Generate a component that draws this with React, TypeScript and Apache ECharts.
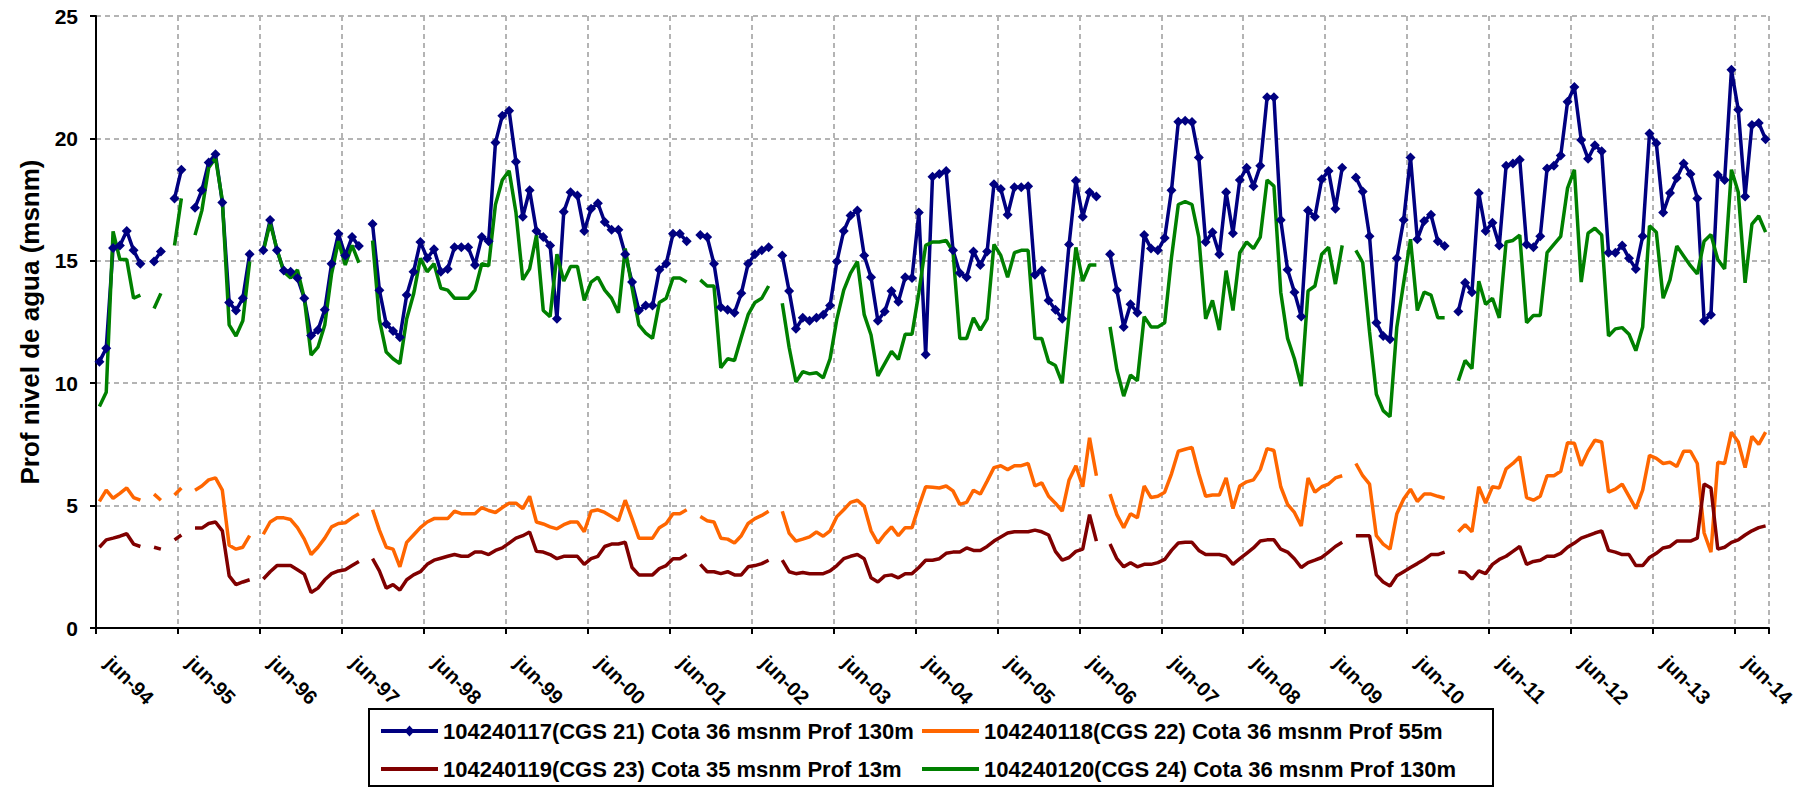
import React, { useEffect, useRef } from "react";
import * as echarts from "echarts";

const MONTHS = ["jun", "jul", "ago", "sep", "oct", "nov", "dic", "ene", "feb", "mar", "abr", "may"];
const N_MONTHS = 245;
const CATEGORIES: string[] = Array.from({ length: N_MONTHS }, (_, i) => {
  const year = 1994 + Math.floor((i + 5) / 12);
  return `${MONTHS[i % 12]}-${String(year % 100).padStart(2, "0")}`;
});

const NAMES = [
  "104240117(CGS 21) Cota 36 msnm Prof 130m",
  "104240118(CGS 22) Cota 36 msnm Prof 55m",
  "104240119(CGS 23) Cota 35 msnm Prof 13m",
  "104240120(CGS 24) Cota 36 msnm Prof 130m",
];
const COLORS = ["#000080", "#FF6600", "#800000", "#008000"];

const CGS21 = [
  10.88, 11.43, 15.52, 15.63, 16.22, 15.43, 14.88, null, 14.97, 15.38, null, 17.55,
  18.72, null, 17.17, 17.88, 19.02, 19.35, 17.38, 13.3, 12.97, 13.47, 15.27, null,
  15.43, 16.67, 15.43, 14.6, 14.55, 14.3, 13.47, 11.95, 12.17, 13.0, 14.88, 16.1,
  15.22, 15.97, 15.6, null, 16.5, 13.8, 12.42, 12.13, 11.88, 13.6, 14.55, 15.77,
  15.1, 15.47, 14.55, 14.67, 15.55, 15.55, 15.55, 14.83, 15.97, 15.8, 19.83, 20.93,
  21.13, 19.05, 16.8, 17.88, 16.22, 15.97, 15.63, 12.63, 17.0, 17.8, 17.67, 16.22,
  17.13, 17.35, 16.58, 16.27, 16.27, 15.27, 14.13, 12.97, 13.17, 13.17, 14.63, 14.88,
  16.1, 16.1, 15.8, null, 16.05, 15.97, 14.88, 13.1, 13.0, 12.88, 13.67, 14.88,
  15.27, 15.43, 15.55, null, 15.22, 13.77, 12.22, 12.67, 12.55, 12.67, 12.8, 13.17,
  14.97, 16.22, 16.85, 17.05, 15.22, 14.33, 12.55, 12.93, 13.77, 13.33, 14.33, 14.3,
  16.97, 11.17, 18.43, 18.55, 18.67, 15.43, 14.5, 14.33, 15.38, 14.83, 15.38, 18.13,
  17.93, 16.88, 18.0, 18.0, 18.05, 14.43, 14.6, 13.38, 13.0, 12.63, 15.67, 18.27,
  16.8, 17.8, 17.63, null, 15.27, 13.8, 12.3, 13.22, 12.88, 16.05, 15.5, 15.43,
  15.93, 17.88, 20.68, 20.72, 20.67, 19.22, 15.77, 16.17, 15.27, 17.8, 16.13, 18.3,
  18.8, 18.05, 18.88, 21.68, 21.68, 16.67, 14.63, 13.72, 12.72, 17.05, 16.8, 18.33,
  18.67, 17.13, 18.8, null, 18.4, 17.83, 16.0, 12.47, 11.93, 11.8, 15.1, 16.67,
  19.22, 15.88, 16.63, 16.88, 15.8, 15.6, null, 12.93, 14.1, 13.72, 17.77, 16.22,
  16.55, 15.63, 18.88, 18.97, 19.13, 15.67, 15.55, 16.0, 18.77, 18.88, 19.3, 21.5,
  22.1, 19.93, 19.17, 19.72, 19.47, 15.33, 15.33, 15.63, 15.1, 14.67, 16.0, 20.2,
  19.8, 16.97, 17.77, 18.38, 18.97, 18.55, 17.55, 12.55, 12.8, 18.5, 18.3, 22.8,
  21.17, 17.63, 20.55, 20.63, 19.97,
];

const CGS22 = [
  5.17, 5.63, 5.3, 5.5, 5.72, 5.33, 5.22, null, 5.47, 5.22, null, 5.43,
  5.72, null, 5.63, 5.8, 6.05, 6.13, 5.63, 3.38, 3.22, 3.3, 3.77, null,
  3.83, 4.33, 4.5, 4.5, 4.43, 4.1, 3.63, 3.0, 3.3, 3.67, 4.13, 4.27,
  4.3, 4.5, 4.67, null, 4.83, 4.0, 3.3, 3.22, 2.5, 3.5, 3.8, 4.1,
  4.33, 4.47, 4.47, 4.47, 4.77, 4.67, 4.67, 4.67, 4.92, 4.8, 4.72, 4.92,
  5.1, 5.1, 4.88, 5.38, 4.33, 4.25, 4.13, 4.05, 4.22, 4.33, 4.33, 3.93,
  4.77, 4.83, 4.72, 4.55, 4.38, 5.22, 4.47, 3.67, 3.67, 3.67, 4.1, 4.27,
  4.67, 4.67, 4.83, null, 4.55, 4.38, 4.33, 3.67, 3.63, 3.47, 3.77, 4.27,
  4.47, 4.6, 4.77, null, 4.77, 3.88, 3.55, 3.63, 3.72, 3.92, 3.75, 3.97,
  4.55, 4.83, 5.13, 5.22, 4.97, 3.97, 3.47, 3.83, 4.13, 3.77, 4.1, 4.1,
  4.97, 5.77, 5.75, 5.72, 5.8, 5.6, 5.05, 5.13, 5.63, 5.47, 6.0, 6.55,
  6.63, 6.47, 6.63, 6.63, 6.72, 5.8, 5.93, 5.38, 5.1, 4.77, 6.05, 6.63,
  5.77, 7.77, 6.22, null, 5.47, 4.63, 4.1, 4.67, 4.5, 5.8, 5.33, 5.38,
  5.55, 6.3, 7.22, 7.3, 7.38, 6.3, 5.38, 5.43, 5.43, 6.13, 4.88, 5.8,
  5.97, 6.05, 6.47, 7.33, 7.25, 5.77, 5.05, 4.72, 4.17, 6.13, 5.55, 5.77,
  5.88, 6.13, 6.22, null, 6.72, 6.22, 5.88, 3.77, 3.43, 3.22, 4.67, 5.27,
  5.67, 5.17, 5.47, 5.47, 5.38, 5.3, null, 3.93, 4.22, 3.93, 5.77, 5.1,
  5.77, 5.72, 6.5, 6.72, 7.0, 5.33, 5.22, 5.38, 6.22, 6.22, 6.4, 7.57,
  7.55, 6.63, 7.22, 7.67, 7.6, 5.55, 5.67, 5.88, 5.38, 4.88, 5.63, 7.05,
  6.93, 6.72, 6.77, 6.6, 7.22, 7.22, 6.72, 3.88, 3.1, 6.77, 6.72, 8.0,
  7.6, 6.55, 7.83, 7.5, 8.0,
];

const CGS23 = [
  3.3, 3.6, 3.67, 3.75, 3.85, 3.43, 3.33, null, 3.3, 3.22, null, 3.6,
  3.8, null, 4.08, 4.08, 4.27, 4.33, 3.97, 2.13, 1.77, 1.88, 1.97, null,
  2.0, 2.3, 2.55, 2.55, 2.55, 2.38, 2.2, 1.45, 1.63, 1.97, 2.22, 2.33,
  2.38, 2.55, 2.72, null, 2.83, 2.33, 1.63, 1.77, 1.55, 1.97, 2.17, 2.3,
  2.6, 2.77, 2.85, 2.93, 3.0, 2.93, 2.93, 3.1, 3.1, 3.0, 3.17, 3.27,
  3.47, 3.67, 3.77, 3.92, 3.13, 3.1, 3.0, 2.83, 2.93, 2.93, 2.93, 2.6,
  2.83, 2.93, 3.33, 3.43, 3.43, 3.5, 2.47, 2.17, 2.17, 2.17, 2.43, 2.55,
  2.83, 2.83, 3.0, null, 2.6, 2.3, 2.3, 2.22, 2.3, 2.17, 2.17, 2.5,
  2.55, 2.63, 2.77, null, 2.77, 2.3, 2.22, 2.27, 2.22, 2.22, 2.22, 2.33,
  2.55, 2.83, 2.93, 3.0, 2.83, 2.05, 1.88, 2.13, 2.17, 2.05, 2.22, 2.22,
  2.47, 2.77, 2.77, 2.83, 3.05, 3.1, 3.1, 3.27, 3.17, 3.17, 3.33, 3.55,
  3.72, 3.88, 3.93, 3.93, 3.93, 4.0, 3.93, 3.8, 3.13, 2.77, 2.88, 3.13,
  3.22, 4.63, 3.55, null, 3.43, 2.83, 2.5, 2.67, 2.5, 2.6, 2.6, 2.67,
  2.8, 3.17, 3.47, 3.5, 3.5, 3.17, 3.0, 3.0, 3.0, 2.93, 2.6, 2.83,
  3.05, 3.27, 3.55, 3.6, 3.6, 3.22, 3.1, 2.83, 2.47, 2.67, 2.77, 2.88,
  3.1, 3.33, 3.5, null, 3.77, 3.77, 3.77, 2.17, 1.88, 1.72, 2.13, 2.3,
  2.47, 2.63, 2.8, 3.0, 3.0, 3.1, null, 2.3, 2.27, 2.0, 2.33, 2.22,
  2.6, 2.8, 2.93, 3.13, 3.33, 2.6, 2.72, 2.77, 2.93, 2.93, 3.05, 3.3,
  3.47, 3.67, 3.77, 3.88, 3.97, 3.17, 3.1, 3.0, 3.0, 2.55, 2.55, 2.88,
  3.05, 3.27, 3.33, 3.55, 3.55, 3.55, 3.67, 5.88, 5.72, 3.22, 3.3, 3.5,
  3.6, 3.8, 3.97, 4.1, 4.17,
];

const CGS24 = [
  9.05, 9.63, 16.2, 15.05, 15.05, 13.47, 13.6, null, 13.05, 13.67, null, 15.63,
  17.55, null, 16.05, 17.05, 18.8, 19.2, 17.47, 12.38, 11.93, 12.55, 14.97, null,
  15.4, 16.55, 15.47, 14.55, 14.3, 14.63, 13.47, 11.15, 11.47, 12.38, 14.47, 15.8,
  14.83, 15.63, 14.92, null, 15.83, 12.6, 11.27, 11.0, 10.8, 12.63, 13.63, 15.1,
  14.55, 14.88, 13.88, 13.8, 13.47, 13.47, 13.47, 13.8, 14.88, 14.8, 17.3, 18.3,
  18.68, 16.97, 14.22, 14.67, 16.05, 12.97, 12.72, 15.27, 14.17, 14.77, 14.77, 13.38,
  14.13, 14.33, 13.8, 13.47, 12.88, 15.5, 13.9, 12.38, 12.05, 11.83, 13.3, 13.47,
  14.3, 14.3, 14.13, null, 14.22, 13.97, 13.97, 10.63, 11.0, 10.93, 11.88, 12.8,
  13.3, 13.47, 13.97, null, 13.27, 11.47, 10.05, 10.47, 10.38, 10.43, 10.22, 11.0,
  12.63, 13.8, 14.5, 14.97, 12.8, 11.97, 10.3, 10.8, 11.3, 10.97, 12.0, 12.0,
  13.7, 15.63, 15.77, 15.77, 15.83, 15.38, 11.83, 11.83, 12.67, 12.17, 12.63, 15.67,
  15.22, 14.33, 15.33, 15.43, 15.43, 11.83, 11.83, 10.88, 10.72, 10.0, 12.8, 15.55,
  14.17, 14.83, 14.83, null, 12.3, 10.55, 9.47, 10.33, 10.1, 12.72, 12.3, 12.3,
  12.47, 15.13, 17.3, 17.42, 17.3, 15.97, 12.63, 13.38, 12.17, 14.6, 12.97, 15.33,
  15.77, 15.5, 15.97, 18.3, 18.05, 13.72, 11.83, 11.0, 9.88, 13.77, 13.97, 15.27,
  15.55, 14.05, 15.63, null, 15.43, 14.93, 12.1, 9.55, 8.88, 8.63, 12.3, 14.1,
  15.88, 12.97, 13.72, 13.6, 12.67, 12.67, null, 10.1, 10.93, 10.6, 14.17, 13.22,
  13.47, 12.67, 15.77, 15.83, 16.05, 12.47, 12.77, 12.77, 15.33, 15.67, 16.0, 17.97,
  18.72, 14.13, 16.13, 16.33, 16.05, 11.93, 12.22, 12.27, 12.0, 11.33, 12.3, 16.43,
  16.17, 13.47, 14.22, 15.6, 15.2, 14.8, 14.47, 15.8, 16.07, 15.05, 14.67, 18.72,
  17.8, 14.1, 16.5, 16.83, 16.17,
];

const SERIES_DATA = [CGS21, CGS22, CGS23, CGS24];
const Y_TITLE = "Prof nivel de agua (msnm)";
const FONT = "'Liberation Sans', Arial, Helvetica, sans-serif";

const ICON_LINE = "path://M0,5H57V9H0Z";
const ICON_LINE_DIAMOND = "path://M0,5H57V9H0Z M28.5,1.5L33.5,7L28.5,12.5L23.5,7Z";

export default function App() {
  const ref = useRef<HTMLDivElement>(null);

  useEffect(() => {
    if (!ref.current) return;
    const chart = echarts.init(ref.current, undefined, { renderer: "svg" });
    const gridLine = { color: "#b4b4b4", width: 2, type: [5, 4] as number[] };
    const legendText = {
      fontSize: 22,
      fontWeight: "bold" as const,
      fontFamily: FONT,
      color: "#000",
      lineHeight: 26,
    };
    const legendBase = {
      orient: "vertical",
      top: 713,
      itemWidth: 57,
      itemHeight: 14,
      itemGap: 12,
      symbolKeepAspect: true,
      textStyle: legendText,
      z: 20,
    };
    const option: any = {
      animation: false,
      backgroundColor: "#ffffff",
      grid: { left: 96, right: 47, top: 16, bottom: 159, containLabel: false },
      xAxis: {
        type: "category",
        data: CATEGORIES,
        boundaryGap: true,
        axisLine: { show: true, lineStyle: { color: "#000", width: 2 } },
        axisTick: { show: true, interval: 11, length: 6, lineStyle: { color: "#000", width: 2 } },
        axisLabel: {
          interval: 11,
          rotate: -45,
          margin: 22,
          padding: [0, 0, 0, 13],
          fontSize: 20,
          fontWeight: "bold",
          fontFamily: FONT,
          color: "#000",
        },
        splitLine: { show: true, interval: 11, lineStyle: gridLine },
      },
      yAxis: {
        type: "value",
        min: 0,
        max: 25,
        interval: 5,
        name: Y_TITLE,
        nameLocation: "middle",
        nameGap: 53,
        nameTextStyle: { fontSize: 26, fontWeight: "bold", fontFamily: FONT, color: "#000" },
        axisLine: { show: true, lineStyle: { color: "#000", width: 2 } },
        axisTick: { show: true, length: 6, lineStyle: { color: "#000", width: 2 } },
        axisLabel: { fontSize: 21, fontWeight: "bold", fontFamily: FONT, color: "#000", margin: 18 },
        splitLine: { show: true, lineStyle: gridLine },
      },
      legend: [
        {
          ...legendBase,
          left: 376,
          data: [
            { name: NAMES[0], icon: ICON_LINE_DIAMOND },
            { name: NAMES[2], icon: ICON_LINE },
          ],
        },
        {
          ...legendBase,
          left: 917,
          data: [
            { name: NAMES[1], icon: ICON_LINE },
            { name: NAMES[3], icon: ICON_LINE },
          ],
        },
      ],
      graphic: [
        {
          type: "rect",
          z: 10,
          shape: { x: 369, y: 709, width: 1124, height: 77 },
          style: { fill: "#ffffff", stroke: "#000000", lineWidth: 2 },
        },
      ],
      series: SERIES_DATA.map((d, k) => ({
        name: NAMES[k],
        type: "line",
        data: d,
        connectNulls: false,
        symbol: k === 0 ? "diamond" : "none",
        symbolSize: 10,
        showSymbol: k === 0,
        showAllSymbol: true,
        lineStyle: { width: 3.5, color: COLORS[k] },
        itemStyle: { color: COLORS[k] },
        emphasis: { disabled: true },
      })),
    };
    chart.setOption(option);
    return () => chart.dispose();
  }, []);

  return (
    <div
      ref={ref}
      style={{ position: "absolute", left: 0, top: 0, width: 1816, height: 787, background: "#fff" }}
    />
  );
}
